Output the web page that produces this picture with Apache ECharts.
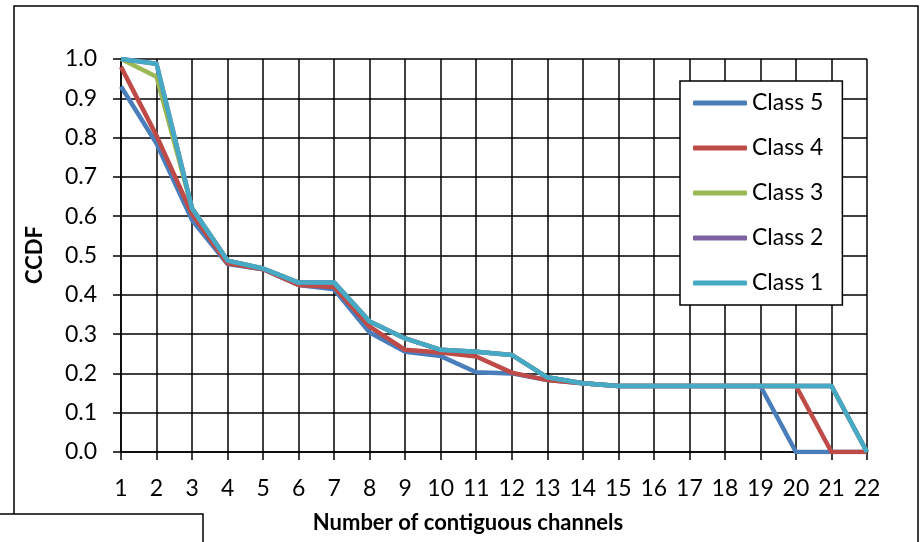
<!DOCTYPE html>
<html>
<head>
<meta charset="utf-8">
<script src="https://cdn.jsdelivr.net/npm/echarts@6/dist/echarts.min.js"></script>
<style>
html,body{margin:0;padding:0;background:#fff;}
#chart{width:920px;height:542px;}
</style>
</head>
<body>
<div id="chart"></div>
<script>
var channels = [1,2,3,4,5,6,7,8,9,10,11,12,13,14,15,16,17,18,19,20,21,22];
var seriesNames = ['Class 5','Class 4','Class 3','Class 2','Class 1'];
var class5 = [0.93,0.785,0.59,0.478,0.465,0.425,0.414,0.304,0.255,0.244,0.203,0.2,0.183,0.175,0.168,0.168,0.168,0.168,0.168,0,0,0];
var class4 = [0.98,0.805,0.605,0.48,0.465,0.425,0.42,0.319,0.26,0.253,0.243,0.202,0.183,0.175,0.168,0.168,0.168,0.168,0.168,0.168,0,0];
var class3 = [1.0,0.955,0.62,0.487,0.467,0.431,0.431,0.332,0.289,0.26,0.255,0.247,0.19,0.175,0.168,0.168,0.168,0.168,0.168,0.168,0.168,0];
var class2 = [1.0,0.988,0.62,0.487,0.467,0.431,0.431,0.332,0.289,0.26,0.255,0.247,0.19,0.175,0.168,0.168,0.168,0.168,0.168,0.168,0.168,0];
var class1 = [1.0,0.988,0.62,0.487,0.467,0.431,0.431,0.332,0.289,0.26,0.255,0.247,0.19,0.175,0.168,0.168,0.168,0.168,0.168,0.168,0.168,0];
var seriesValues = [class5, class4, class3, class2, class1];
var colors = ['#4A7EBB','#BE4B48','#98B954','#7D60A0','#46AAC5'];
var xTitle = 'Number of contiguous channels';
var yTitle = 'CCDF';

var FONT = 'Lato, Carlito, "Liberation Sans", sans-serif';

function pairs(vals){
  return channels.map(function(c,i){ return [c, vals[i]]; });
}

var chart = echarts.init(document.getElementById('chart'), null, {renderer:'canvas'});
chart.setOption({
  animation:false,
  backgroundColor:'#fff',
  grid:{left:121, right:53, top:59, bottom:90, containLabel:false},
  xAxis:{
    type:'value', min:1, max:22, interval:1,
    axisLine:{show:true, onZero:false, lineStyle:{color:'#000', width:1.5}},
    axisTick:{show:true, length:8, lineStyle:{color:'#000', width:1.5}},
    splitLine:{show:true, lineStyle:{color:'#000', width:1.5}},
    axisLabel:{color:'#000', fontFamily:FONT, fontSize:23, margin:25}
  },
  yAxis:{
    type:'value', min:0, max:1, interval:0.1,
    axisLine:{show:true, lineStyle:{color:'#000', width:1.5}},
    axisTick:{show:true, length:8, lineStyle:{color:'#000', width:1.5}},
    splitLine:{show:true, lineStyle:{color:'#000', width:1.5}},
    axisLabel:{color:'#000', fontFamily:FONT, fontSize:23, margin:24,
      formatter:function(v){ return v.toFixed(1); }}
  },
  legend:{
    orient:'vertical', left:680, top:81,
    backgroundColor:'#fff', borderColor:'#000', borderWidth:1.5,
    padding:[10,19,10,13],
    itemWidth:54, itemHeight:5, itemGap:21,
    icon:'roundRect',
    textStyle:{color:'#000', fontFamily:FONT, fontSize:23, lineHeight:24},
    data:seriesNames
  },
  series:seriesNames.map(function(n,i){
    return {
      name:n, type:'line', data:pairs(seriesValues[i]),
      showSymbol:false, symbol:'none',
      lineStyle:{color:colors[i], width:4.5, join:'round'},
      itemStyle:{color:colors[i]},
      z:2+i
    };
  }),
  graphic:[
    {type:'rect', shape:{x:14, y:6, width:904, height:600}, style:{fill:'none', stroke:'#000', lineWidth:1.5}, z:-1},
    {type:'rect', shape:{x:-2, y:514, width:205, height:60}, style:{fill:'#fff', stroke:'#000', lineWidth:1.5}, z:10},
    {type:'text', x:468, y:523, style:{text:xTitle, font:'bold 22px '+FONT, fill:'#000', textAlign:'center', textVerticalAlign:'middle'}},
    {type:'text', x:35, y:255, rotation:Math.PI/2, style:{text:yTitle, font:'bold 22px '+FONT, fill:'#000', textAlign:'center', textVerticalAlign:'middle'}}
  ]
});
</script>
</body>
</html>
